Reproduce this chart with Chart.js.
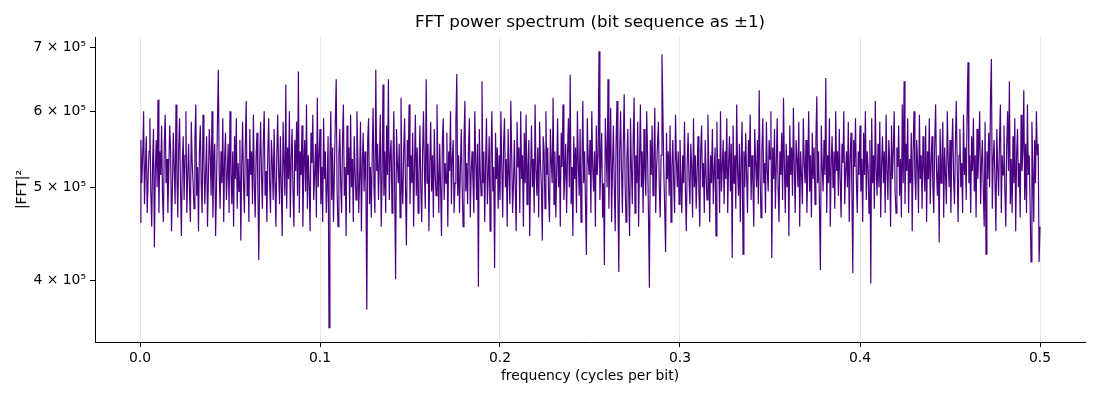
<!DOCTYPE html>
<html>
<head>
<meta charset="utf-8">
<script src="https://cdn.jsdelivr.net/npm/chart.js@4.4.1/dist/chart.umd.min.js"></script>
<style>
  html, body { margin: 0; padding: 0; background: #fff; }
  #spectrum { display: block; }
</style>
</head>
<body>
<canvas id="spectrum" width="1100" height="400"></canvas>
<script>
// |FFT|^2 per frequency bin (0 .. 0.5 cycles/bit), in units of 10^3
const power = [
    460, 560, 505, 540, 600, 480, 525, 565, 470, 510, 545, 590, 495, 455, 530, 575, 433, 520, 560, 500, 617, 470, 545, 515, 580,
    490, 460, 555, 595, 505, 535, 470, 520, 580, 545, 450, 500, 570, 525, 480, 610, 515, 465, 550, 590, 500, 445, 530, 565, 485,
    540, 600, 470, 515, 555, 495, 460, 585, 530, 505, 475, 560, 610, 490, 525, 450, 545, 580, 505, 470, 595, 535, 480, 520, 565,
    455, 510, 575, 540, 490, 600, 465, 530, 555, 445, 500, 580, 663, 520, 475, 545, 505, 590, 460, 535, 570, 485, 515, 555, 470,
    600, 520, 480, 545, 455, 565, 510, 590, 475, 530, 495, 560, 440, 525, 585, 505, 470, 550, 615, 490, 535, 460, 575, 515, 545,
    480, 595, 505, 465, 540, 570, 495, 420, 530, 585, 515, 475, 555, 600, 490, 520, 460, 545, 590, 505, 470, 560, 530, 485, 575,
    505, 455, 540, 595, 520, 480, 565, 500, 445, 585, 530, 490, 640, 475, 550, 510, 600, 465, 535, 575, 495, 455, 560, 520, 585,
    490, 660, 470, 545, 515, 580, 455, 525, 560, 495, 610, 475, 540, 505, 450, 570, 530, 595, 485, 515, 555, 465, 620, 500, 540,
    575, 480, 525, 460, 590, 510, 545, 470, 505, 565, 357, 530, 600, 485, 550, 460, 520, 585, 648, 495, 455, 540, 575, 505, 470,
    560, 610, 490, 525, 445, 580, 515, 550, 470, 595, 500, 535, 460, 565, 520, 485, 600, 540, 470, 510, 585, 450, 530, 570, 495,
    545, 505, 373, 560, 590, 480, 525, 465, 540, 605, 500, 470, 663, 520, 555, 485, 530, 595, 455, 510, 640, 490, 545, 470, 580,
    515, 648, 485, 540, 560, 470, 525, 600, 495, 401, 575, 530, 505, 555, 465, 620, 510, 480, 545, 590, 500, 435, 560, 525, 610,
    480, 540, 505, 570, 455, 525, 595, 490, 550, 470, 515, 580, 500, 460, 545, 600, 520, 475, 648, 505, 555, 450, 530, 585, 495,
    540, 465, 575, 515, 490, 610, 525, 470, 555, 500, 445, 560, 590, 485, 530, 505, 570, 455, 545, 520, 600, 480, 535, 560, 470,
    505, 585, 656, 490, 540, 470, 525, 575, 500, 455, 560, 615, 495, 530, 480, 550, 590, 465, 520, 545, 505, 470, 600, 535, 485,
    555, 394, 575, 520, 490, 645, 505, 545, 460, 530, 590, 480, 515, 565, 450, 540, 600, 495, 525, 412, 570, 510, 550, 475, 540,
    485, 600, 525, 465, 555, 590, 500, 535, 455, 575, 515, 480, 615, 540, 470, 505, 560, 495, 450, 585, 525, 550, 470, 600, 510,
    540, 455, 570, 505, 595, 480, 525, 560, 445, 515, 580, 500, 535, 470, 610, 520, 490, 550, 465, 585, 530, 500, 440, 565, 545,
    475, 600, 515, 550, 490, 460, 575, 530, 505, 620, 480, 545, 465, 520, 590, 500, 540, 455, 570, 525, 610, 485, 515, 555, 470,
    540, 590, 500, 655, 480, 525, 445, 565, 510, 550, 470, 600, 530, 490, 575, 460, 520, 615, 505, 545, 480, 425, 590, 535, 515,
    560, 470, 600, 525, 495, 545, 455, 580, 515, 540, 693, 485, 530, 570, 465, 505, 415, 590, 545, 500, 648, 475, 535, 605, 460,
    525, 580, 500, 450, 560, 615, 490, 408, 545, 600, 520, 470, 555, 625, 505, 460, 535, 575, 495, 445, 590, 525, 480, 560, 620,
    470, 540, 505, 585, 455, 530, 610, 500, 545, 470, 575, 520, 490, 600, 540, 465, 393, 560, 515, 580, 490, 535, 605, 470, 525,
    555, 585, 500, 465, 540, 688, 600, 520, 475, 428, 570, 510, 545, 490, 580, 460, 525, 560, 505, 470, 595, 535, 500, 545, 480,
    560, 515, 470, 540, 505, 585, 495, 450, 530, 570, 510, 480, 555, 525, 465, 590, 500, 540, 475, 520, 565, 495, 455, 545, 580,
    500, 530, 470, 560, 515, 485, 595, 525, 460, 540, 505, 575, 480, 520, 550, 445, 585, 510, 535, 470, 600, 495, 525, 560, 480,
    545, 510, 590, 470, 530, 565, 495, 555, 422, 580, 505, 540, 475, 610, 520, 490, 555, 460, 535, 585, 426, 545, 500, 570, 515,
    470, 560, 525, 595, 485, 540, 505, 455, 575, 530, 500, 560, 480, 631, 515, 465, 545, 590, 505, 530, 470, 585, 520, 495, 560,
    535, 600, 422, 550, 510, 575, 475, 530, 590, 500, 460, 545, 515, 570, 485, 620, 525, 470, 555, 500, 540, 445, 580, 515, 550,
    490, 605, 525, 470, 560, 535, 500, 585, 455, 545, 515, 480, 590, 530, 505, 560, 470, 525, 600, 495, 540, 465, 570, 510, 550,
    480, 560, 622, 505, 545, 475, 410, 580, 525, 495, 560, 515, 650, 470, 540, 505, 590, 455, 530, 565, 500, 545, 475, 600, 520,
    545, 490, 575, 510, 465, 555, 530, 600, 480, 520, 545, 500, 585, 460, 535, 570, 495, 407, 560, 525, 590, 505, 470, 545, 515,
    580, 495, 535, 460, 570, 515, 600, 485, 545, 525, 470, 560, 397, 590, 505, 540, 475, 615, 520, 490, 555, 500, 585, 465, 530,
    565, 505, 545, 470, 595, 520, 485, 560, 530, 455, 580, 510, 545, 600, 495, 470, 550, 525, 580, 490, 535, 465, 610, 505, 645,
    480, 555, 520, 590, 470, 535, 505, 570, 450, 545, 600, 515, 485, 560, 530, 470, 595, 510, 540, 475, 565, 525, 495, 580, 460,
    545, 510, 590, 480, 530, 565, 500, 470, 555, 610, 520, 490, 540, 438, 575, 505, 530, 585, 465, 550, 515, 480, 600, 535, 500,
    560, 470, 545, 590, 510, 480, 555, 615, 525, 460, 540, 575, 500, 530, 470, 595, 515, 550, 485, 600, 675, 505, 540, 470, 565,
    520, 590, 495, 540, 465, 575, 510, 550, 600, 480, 530, 560, 495, 455, 585, 426, 545, 510, 570, 500, 620, 680, 475, 535, 560,
    505, 450, 575, 525, 490, 560, 610, 470, 540, 515, 580, 495, 455, 550, 600, 520, 645, 480, 535, 470, 565, 505, 590, 450, 540,
    575, 500, 530, 465, 595, 520, 545, 631, 485, 555, 470, 610, 515, 540, 480, 418, 585, 525, 460, 560, 505, 600, 540, 555, 418,
    455
];
const binWidth = 0.5 / (power.length - 1); // rfft bins span 0 .. Nyquist

const xTicks = [0, 0.1, 0.2, 0.3, 0.4, 0.5];
const xTickLabels = ['0.0', '0.1', '0.2', '0.3', '0.4', '0.5'];
const yTicks = [400, 500, 600, 700];
const yTickLabels = ['4 × 10⁵', '5 × 10⁵', '6 × 10⁵', '7 × 10⁵'];

const points = power.map((p, i) => ({ x: i * binWidth, y: p }));

Chart.defaults.font.family = "'DejaVu Sans', sans-serif";
Chart.defaults.color = '#000';

new Chart(document.getElementById('spectrum'), {
    type: 'line',
    data: {
        datasets: [{
            data: points,
            borderColor: '#4b0082',
            borderWidth: 1.2,
            pointRadius: 0,
            tension: 0,
            fill: false
        }]
    },
    options: {
        responsive: false,
        animation: false,
        devicePixelRatio: 1,
        layout: { padding: { left: 0, right: 15, top: 0, bottom: 0 } },
        plugins: {
            legend: { display: false },
            tooltip: { enabled: false },
            title: {
                display: true,
                text: 'FFT power spectrum (bit sequence as ±1)',
                fullSize: false,
                color: '#000',
                font: { size: 16.7, weight: 'normal' },
                padding: { top: 13, bottom: 4 }
            }
        },
        scales: {
            x: {
                type: 'linear',
                min: -0.025,
                max: 0.525,
                afterBuildTicks: scale => { scale.ticks = xTicks.map(v => ({ value: v })); },
                afterFit: scale => { scale.height = 58; },
                ticks: {
                    callback: v => xTickLabels[xTicks.indexOf(v)],
                    font: { size: 13.9 },
                    color: '#000',
                    padding: 3,
                    maxRotation: 0
                },
                grid: { color: '#e6e6e6', lineWidth: 1, tickColor: '#000', tickLength: 5, tickWidth: 1 },
                border: { color: '#000', width: 1 },
                title: {
                    display: true,
                    text: 'frequency (cycles per bit)',
                    font: { size: 13.9 },
                    color: '#000',
                    padding: { top: 0, bottom: 15 }
                }
            },
            y: {
                type: 'logarithmic',
                min: 345,
                max: 717,
                afterBuildTicks: scale => { scale.ticks = yTicks.map(v => ({ value: v })); },
                afterFit: scale => { scale.width = 95; },
                ticks: {
                    callback: v => yTickLabels[yTicks.indexOf(v)],
                    font: { size: 13.9 },
                    color: '#000',
                    padding: 4
                },
                grid: { drawOnChartArea: false, tickColor: '#000', tickLength: 5, tickWidth: 1 },
                border: { color: '#000', width: 1 },
                title: {
                    display: true,
                    text: '|FFT|²',
                    font: { size: 13.9 },
                    color: '#000',
                    padding: { top: 14, bottom: 0 }
                }
            }
        }
    }
});
</script>
</body>
</html>
